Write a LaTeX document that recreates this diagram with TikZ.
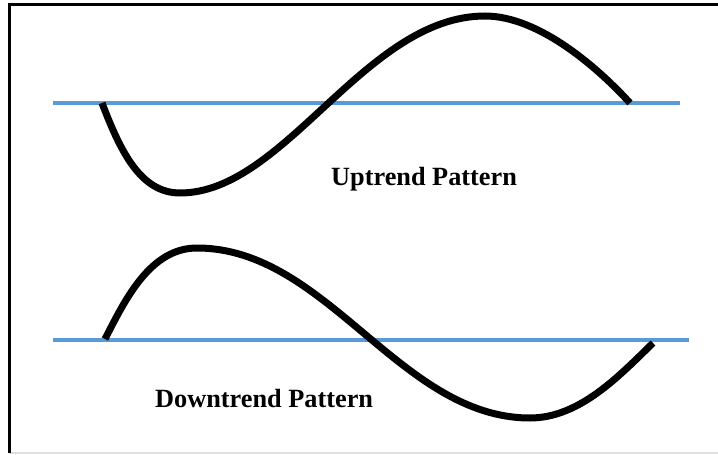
\documentclass[tikz,border=0pt]{standalone}
\usepackage{fontspec}
\setmainfont{Liberation Serif}
\definecolor{trendblue}{HTML}{5B9BD5}
\tikzset{
  baseline line/.style={draw=trendblue, line width=3.2pt},
  wave/.style={draw=black, line width=7pt},
  label text/.style={font=\bfseries\fontsize{26.3}{30}\selectfont, inner sep=0pt, anchor=base west},
  frame line/.style={draw=black, line width=3pt}
}
\begin{document}
\begin{tikzpicture}[x=1pt,y=-1pt]
\useasboundingbox (0,0) rectangle (718,455);
% frame
\coordinate (ftl) at (9,4);
\coordinate (ftr) at (720,4);
\coordinate (fbl) at (9,453);
\coordinate (fbr) at (720,453);
\draw[draw=black!12, line width=1.2pt] (fbl) -- (fbr);
\draw[frame line] (fbl) -- (ftl) -- (ftr);
% blue baselines
\coordinate (b1s) at (53,103);
\coordinate (b1e) at (680,103);
\coordinate (b2s) at (53,340);
\coordinate (b2e) at (689,340);
\draw[baseline line] (b1s) -- (b1e);
\draw[baseline line] (b2s) -- (b2e);
% uptrend wave
\draw[wave] (102,103) .. controls (120,150) and (140,193) .. (180,193)
  .. controls (285,193) and (365,16) .. (485,16)
  .. controls (540,16) and (600,70) .. (630,103);
% downtrend wave
\draw[wave] (105,339) .. controls (125,300) and (150,248) .. (197,248)
  .. controls (327,248) and (400,418) .. (530,418)
  .. controls (580,418) and (620,375) .. (653,343);
% labels
\node[label text] (up) at (331,185) {Uptrend Pattern};
\node[label text] (down) at (155,407) {Downtrend Pattern};
\end{tikzpicture}
\end{document}
